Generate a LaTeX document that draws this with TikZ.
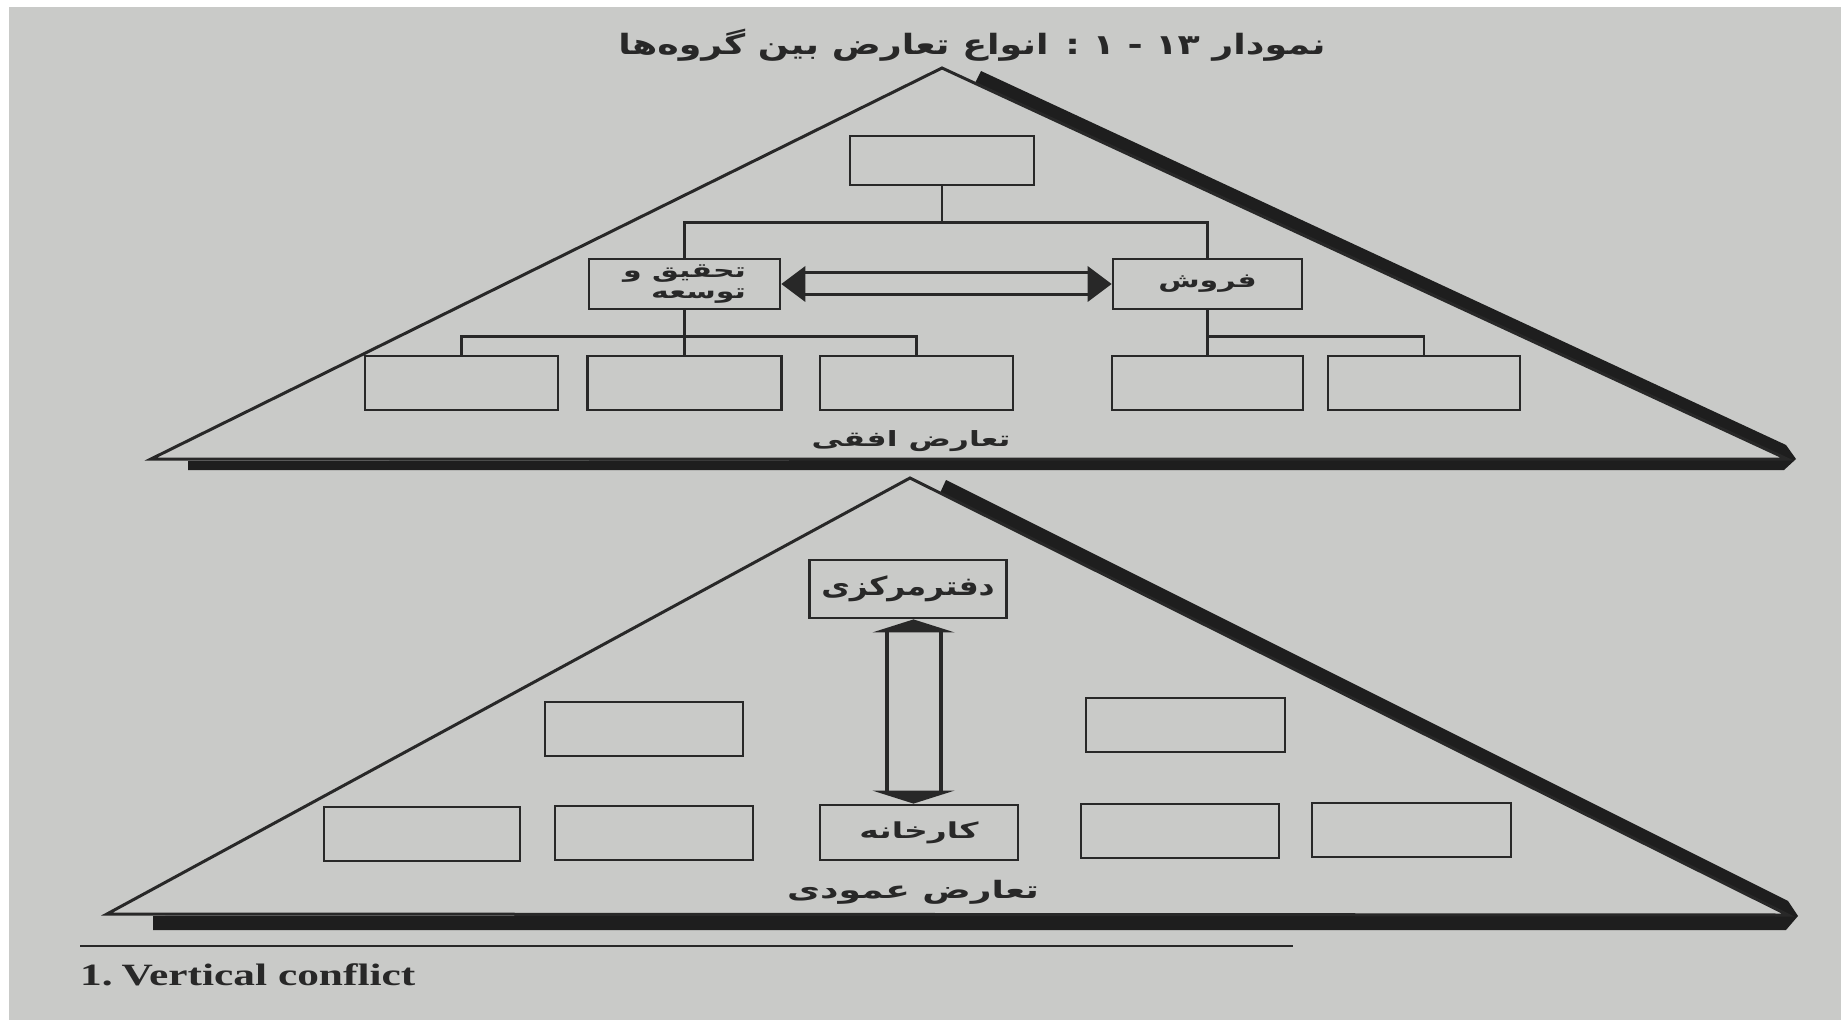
\documentclass[tikz,border=0pt]{standalone}
\usepackage{fontspec}
\usetikzlibrary{calc}
\TeXXeTstate=1
\newfontfamily\fa[Script=Arabic,FakeStretch=1.5]{DejaVu Sans}
\newfontfamily\fan[Script=Arabic,FakeStretch=1.2]{DejaVu Sans}
\newfontfamily\fat[Script=Arabic,FakeStretch=1.3]{DejaVu Sans}
\newfontfamily\fadig[FakeStretch=1.3]{DejaVu Sans}
\newfontfamily\enfoot[FakeStretch=1.4]{Liberation Serif}
\definecolor{paper}{RGB}{201,202,200}
\definecolor{ink}{RGB}{40,40,40}
\definecolor{shade}{RGB}{30,30,30}
\tikzset{
  box/.style={draw=ink, line width=2.8pt, fill=paper, inner sep=0pt, text=ink},
  tree/.style={draw=ink, line width=2.4pt},
  tri/.style={draw=ink, line width=3pt, fill=paper, line join=miter},
  shadowband/.style={fill=shade},
  arrline/.style={draw=ink, line width=3pt},
  headfill/.style={fill=ink},
  lbl/.style={inner sep=0pt, text=ink},
}
\newcommand{\fsz}[1]{\fontsize{#1pt}{#1pt}\selectfont}
\begin{document}
\begin{tikzpicture}[x=1pt,y=-1pt]
\useasboundingbox (0,0) rectangle (1847,1024);
\fill[white] (0,0) rectangle (1847,1024);
\fill[paper] (9,7) rectangle (1841,1020);

% title
\node[lbl] (title) at (972,45) {\fat\bfseries\fsz{28}\beginR نمودار {\fadig ۱۳} - {\fadig ۱} : انواع تعارض بین گروه‌ها\endR};

% ---------- top triangle ----------
\fill[shadowband] (975,83) -- (981,71) -- (1786,445) -- (1796,459) -- (1784,470) -- (188,470) -- (188,461) -- (1787,459) -- cycle;
\filldraw[tri] (942,68) -- (151,459) -- (1787,459) -- cycle;

\node[box, minimum width=184pt, minimum height=49pt] (top) at (942,160.5) {};
\node[box, minimum width=191pt, minimum height=50pt, align=right] (rd) at (684.5,284)
  {\fa\bfseries\fsz{20}\beginR تحقیق و\endR\\[6pt]\fa\bfseries\fsz{20}\beginR توسعه\endR};
\node[box, minimum width=189pt, minimum height=50pt] (sales) at (1207.5,284) {\fa\bfseries\fsz{20}\beginR فروش\endR};
\node[box, minimum width=193pt, minimum height=54pt] (b1) at (461.5,383) {};
\node[box, minimum width=194pt, minimum height=54pt] (b2) at (684.5,383) {};
\node[box, minimum width=193pt, minimum height=54pt] (b3) at (916.5,383) {};
\node[box, minimum width=191pt, minimum height=54pt] (b4) at (1207.5,383) {};
\node[box, minimum width=192pt, minimum height=54pt] (b5) at (1424,383) {};

\draw[tree] (top.south) -- ++(0,36) -| (rd.north);
\draw[tree] (top.south) -- ++(0,36) -| (sales.north);
\draw[tree] (rd.south) -- (b2.north);
\draw[tree] (rd.south) -- ++(0,26) -| (b1.north);
\draw[tree] (rd.south) -- ++(0,26) -| (b3.north);
\draw[tree] (sales.south) -- (b4.north);
\draw[tree] (sales.south) -- ++(0,26) -| (b5.north);

% horizontal double arrow
\draw[arrline] ($(rd.east)+(22,-11)$) -- ($(sales.west)+(-22,-11)$);
\draw[arrline] ($(rd.east)+(22,11)$) -- ($(sales.west)+(-22,11)$);
\fill[headfill] (rd.east) -- ++(24,-18) -- ++(0,36) -- cycle;
\fill[headfill] (sales.west) -- ++(-24,-18) -- ++(0,36) -- cycle;

\node[lbl] (hlab) at (911,441) {\fa\bfseries\fsz{21}\beginR تعارض افقی\endR};

% ---------- bottom triangle ----------
\fill[shadowband] (940,493) -- (946,480) -- (1788,901) -- (1798,916) -- (1786,930) -- (153,930) -- (153,916) -- (1788,915) -- cycle;
\filldraw[tri] (910,478) -- (107,914) -- (1788,915) -- cycle;

\node[box, minimum width=197pt, minimum height=58pt] (hq) at (908,589) {\fan\bfseries\fsz{26}\beginR دفترمرکزی\endR};
\node[box, minimum width=198pt, minimum height=55pt] (fac) at (919,832.5) {\fa\bfseries\fsz{22}\beginR کارخانه\endR};
\node[box, minimum width=198pt, minimum height=54pt] (m1) at (644,729) {};
\node[box, minimum width=199pt, minimum height=54pt] (m2) at (1185.5,725) {};
\node[box, minimum width=196pt, minimum height=54pt] (c1) at (422,834) {};
\node[box, minimum width=198pt, minimum height=54pt] (c2) at (654,833) {};
\node[box, minimum width=198pt, minimum height=54pt] (c4) at (1180,831) {};
\node[box, minimum width=199pt, minimum height=54pt] (c5) at (1411.5,830) {};

% vertical double arrow
\coordinate (va) at ($(hq.south)!0.5!(fac.north)$);
\draw[arrline, line width=4pt] ($(va |- hq.south)+(-27,12)$) -- ($(va |- fac.north)+(-27,-12)$);
\draw[arrline, line width=4pt] ($(va |- hq.south)+(27,12)$) -- ($(va |- fac.north)+(27,-12)$);
\fill[headfill] (va |- hq.south) -- ++(-41,13) -- ++(82,0) -- cycle;
\fill[headfill] (va |- fac.north) -- ++(-41,-13) -- ++(82,0) -- cycle;

\node[lbl] (vlab) at (913,892) {\fa\bfseries\fsz{24}\beginR تعارض عمودی\endR};

% footer
\coordinate (fl) at (80,946);
\coordinate (fr) at (1293,946);
\draw[ink, line width=2.5pt] (fl) -- (fr);
\node[lbl, anchor=west] (foot) at (80,975) {\enfoot\bfseries\fsz{31}1.\hspace{9pt}Vertical conflict};
\end{tikzpicture}
\end{document}
